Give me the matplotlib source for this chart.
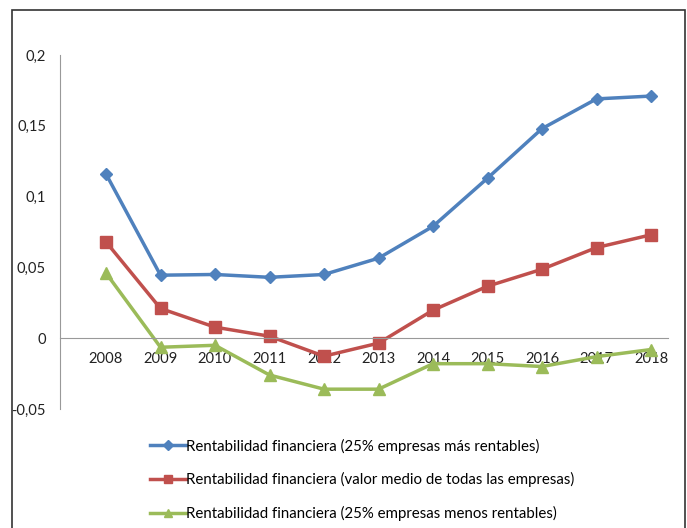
import numpy as np
import matplotlib.pyplot as plt
from matplotlib.patches import Rectangle

plt.rcParams['font.family'] = ['Lato', 'DejaVu Sans']

# data
years = [2008, 2009, 2010, 2011, 2012, 2013, 2014, 2015, 2016, 2017, 2018]
top25 = [0.116, 0.0445, 0.045, 0.043, 0.045, 0.0565, 0.079, 0.113, 0.148, 0.169, 0.171]
media = [0.068, 0.021, 0.0078, 0.0014, -0.0127, -0.0035, 0.0198, 0.0367, 0.0487, 0.064, 0.073]
bottom25 = [0.046, -0.0064, -0.005, -0.026, -0.036, -0.036, -0.018, -0.018, -0.02, -0.013, -0.008]

labels = ["Rentabilidad financiera (25% empresas más rentables)",
          "Rentabilidad financiera (valor medio de todas las empresas)",
          "Rentabilidad financiera (25% empresas menos rentables)"]
yticks = [-0.05, 0, 0.05, 0.1, 0.15, 0.2]
ytick_labels = ["-0,05", "0", "0,05", "0,1", "0,15", "0,2"]

W, H = 687, 528
fig = plt.figure(figsize=(W/100, H/100), dpi=100)
fig.patches.append(Rectangle((12/W, -0.1), (685-12)/W, 1.1 - 10/H, transform=fig.transFigure,
                             fill=False, edgecolor='#333333', linewidth=1.2))

ax = fig.add_axes([60/W, 1 - 409/H, (668-60)/W, (409-55)/H])
x = np.arange(len(years))
ax.plot(x, top25, color='#4F81BD', marker='D', markersize=6.5, linewidth=2.5, label=labels[0])
ax.plot(x, media, color='#C0504D', marker='s', markersize=8, linewidth=2.5, label=labels[1])
ax.plot(x, bottom25, color='#9BBB59', marker='^', markersize=8, linewidth=2.5, label=labels[2])

ax.set_xlim(-46/54.5, 10 + 17/54.5)
ax.set_ylim(-0.05, 0.2)
ax.set_yticks(yticks)
ax.set_yticklabels(ytick_labels)
ax.set_xticks(x)
ax.set_xticklabels([str(y) for y in years])
for s in ['top', 'right']:
    ax.spines[s].set_visible(False)
ax.spines['left'].set_color('#999999')
ax.spines['bottom'].set_color('#999999')
ax.spines['bottom'].set_position(('data', 0))
ax.tick_params(axis='both', length=0, labelsize=10.6, colors='#222222')
ax.tick_params(axis='y', pad=10)
ax.tick_params(axis='x', pad=10)

fig.legend(loc='upper left', bbox_to_anchor=(136/W, 1 - 425/H), frameon=False,
           fontsize=10.8, labelspacing=1.25, handlelength=2.4, handletextpad=0.05,
           markerscale=0.8)

fig.savefig('out.png', dpi=100)
